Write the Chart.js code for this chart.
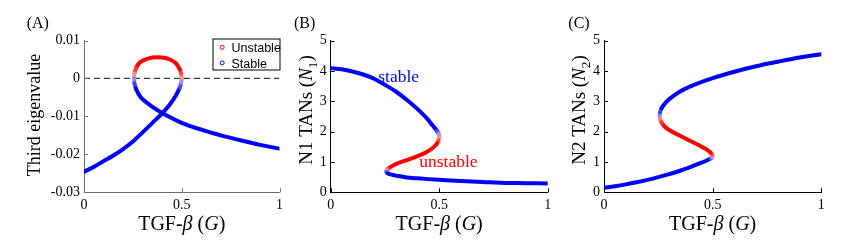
<!DOCTYPE html>
<html>
<head>
<meta charset="utf-8">
<script src="https://cdn.jsdelivr.net/npm/chart.js@4.4.1/dist/chart.umd.min.js"></script>
<style>
  html, body { margin: 0; padding: 0; background: #fff; }
  #wrap { position: relative; width: 863px; height: 242px; overflow: hidden; }
  .panel { position: absolute; top: 0; height: 242px; }
</style>
</head>
<body>
<div id="wrap">
  <div class="panel" style="left:0;width:290px"><canvas id="chartA"></canvas></div>
  <div class="panel" style="left:290px;width:270px"><canvas id="chartB"></canvas></div>
  <div class="panel" style="left:560px;width:303px"><canvas id="chartC"></canvas></div>
</div>
<script>
// Branch 1: G goes 0 -> 0.5 (high N1 / low N2, stable)
const g1   = [0, 0.05, 0.1, 0.15, 0.2, 0.25, 0.3, 0.35, 0.4, 0.44, 0.47, 0.49, 0.497, 0.5];
const eig1 = [-0.0246, -0.0233, -0.0218, -0.0203, -0.0186, -0.0166, -0.0142, -0.0117, -0.0092, -0.0068, -0.0045, -0.0024, -0.0011, 0];
const n1b1 = [4.09, 4.05, 3.98, 3.88, 3.74, 3.54, 3.32, 3.05, 2.74, 2.46, 2.2, 2.02, 1.93, 1.82];
const n2b1 = [0.15, 0.2, 0.26, 0.33, 0.41, 0.5, 0.6, 0.71, 0.84, 0.95, 1.04, 1.11, 1.15, 1.19];

// Branch 2: G goes 0.5 -> 0.256 (unstable middle branch)
const g2   = [0.5, 0.497, 0.49, 0.47, 0.44, 0.4, 0.35, 0.3, 0.28, 0.265, 0.258, 0.256];
const eig2 = [0, 0.0012, 0.0024, 0.004, 0.005, 0.0055, 0.0055, 0.0047, 0.0039, 0.0026, 0.0013, 0];
const n1b2 = [1.82, 1.71, 1.61, 1.46, 1.32, 1.19, 1.06, 0.93, 0.85, 0.78, 0.73, 0.69];
const n2b2 = [1.19, 1.25, 1.31, 1.42, 1.54, 1.68, 1.86, 2.05, 2.16, 2.3, 2.42, 2.53];

// Branch 3: G goes 0.256 -> 1 (low N1 / high N2, stable)
const g3   = [0.256, 0.258, 0.265, 0.28, 0.3, 0.35, 0.4, 0.5, 0.6, 0.7, 0.8, 0.9, 1];
const eig3 = [0, -0.0012, -0.0026, -0.0042, -0.0055, -0.0075, -0.0091, -0.0117, -0.0135, -0.015, -0.0163, -0.0175, -0.0185];
const n1b3 = [0.69, 0.65, 0.62, 0.58, 0.55, 0.49, 0.46, 0.41, 0.37, 0.34, 0.31, 0.3, 0.29];
const n2b3 = [2.53, 2.63, 2.77, 2.92, 3.07, 3.32, 3.5, 3.76, 3.97, 4.15, 4.3, 4.44, 4.55];

const xTicks = [0, 0.5, 1];
const yTicksA = [-0.03, -0.02, -0.01, 0, 0.01];
const yTicksN = [0, 1, 2, 3, 4, 5];

const SERIF = "'Liberation Serif', 'Times New Roman', serif";
const SANS = "'Liberation Sans', Arial, sans-serif";

// whole bifurcation curve, one point per parameter step
const gAll = [...g1, ...g2.slice(1), ...g3.slice(1)];
const eigAll = [...eig1, ...eig2.slice(1), ...eig3.slice(1)];
const n1All = [...n1b1, ...n1b2.slice(1), ...n1b3.slice(1)];
const n2All = [...n2b1, ...n2b2.slice(1), ...n2b3.slice(1)];

function stabilityColor(e) {
    const base = e > 0 ? [255, 0, 0] : [0, 0, 255];
    const t = Math.min(1, Math.abs(e) / 0.003);
    const k = 0.3 + 0.7 * t;
    const c = base.map(v => Math.round(255 + (v - 255) * k));
    return 'rgb(' + c.join(',') + ')';
}

function curveDataset(values) {
    return {
        data: gAll.map((g, i) => ({ x: g, y: values[i] })),
        showLine: true,
        borderColor: '#0000ff',
        borderWidth: 4,
        borderCapStyle: 'round',
        borderJoinStyle: 'round',
        pointRadius: 0,
        tension: 0.35,
        order: 0,
        segment: {
            borderColor: ctx => stabilityColor((eigAll[ctx.p0DataIndex] + eigAll[ctx.p1DataIndex]) / 2)
        }
    };
}

const fmt = v => String(Math.round(v * 1000) / 1000);

// tick marks pointing into the plot, like the original figure
const inwardTicks = {
    id: 'inwardTicks',
    afterDraw(chart, args, opts) {
        const { ctx, chartArea: a, scales: { x, y } } = chart;
        ctx.save();
        ctx.strokeStyle = opts.color;
        ctx.lineWidth = 1;
        ctx.beginPath();
        x.ticks.forEach(t => {
            const px = Math.round(x.getPixelForValue(t.value)) + 0.5;
            ctx.moveTo(px, a.bottom);
            ctx.lineTo(px, a.bottom - 4);
        });
        y.ticks.forEach(t => {
            const py = Math.round(y.getPixelForValue(t.value)) + 0.5;
            ctx.moveTo(a.left, py);
            ctx.lineTo(a.left + 4, py);
        });
        ctx.stroke();
        ctx.restore();
    }
};

function runFont(r, size) {
    const s = r.sub ? size * 0.7 : size;
    return (r.it ? 'italic ' : '') + s + 'px ' + SERIF;
}

function runsWidth(ctx, runs, size) {
    let w = 0;
    runs.forEach(r => { ctx.font = runFont(r, size); w += ctx.measureText(r.t).width; });
    return w;
}

function drawRuns(ctx, runs, size, x0) {
    let x = x0;
    runs.forEach(r => {
        ctx.font = runFont(r, size);
        ctx.fillText(r.t, x, r.sub ? size * 0.28 : 0);
        x += ctx.measureText(r.t).width;
    });
}

const panelText = {
    id: 'panelText',
    afterDraw(chart, args, o) {
        const { ctx, chartArea: a } = chart;
        ctx.save();
        ctx.fillStyle = '#000';
        ctx.textBaseline = 'alphabetic';
        ctx.textAlign = 'left';

        // panel letter
        ctx.font = '16px ' + SERIF;
        ctx.fillText(o.label, a.left + o.labelDx, 28);

        // y title, rotated
        ctx.save();
        ctx.translate(a.left + o.yDx, o.yCenter);
        ctx.rotate(-Math.PI / 2);
        const yw = runsWidth(ctx, o.yRuns, o.ySize);
        drawRuns(ctx, o.yRuns, o.ySize, -yw / 2);
        ctx.restore();

        // x title
        ctx.save();
        ctx.translate((a.left + a.right) / 2, 230);
        const xw = runsWidth(ctx, o.xRuns, 20);
        drawRuns(ctx, o.xRuns, 20, -xw / 2);
        ctx.restore();

        // in-plot notes placed at data coordinates
        (o.notes || []).forEach(n => {
            ctx.font = '17.5px ' + SERIF;
            ctx.fillStyle = n.color;
            ctx.fillText(n.text, chart.scales.x.getPixelForValue(n.x), chart.scales.y.getPixelForValue(n.y));
        });

        // legend box
        if (o.legend) {
            const w = 67, h = 31, lx = a.right - w + 0.5, ly = a.top - 2 + 0.5;
            ctx.fillStyle = '#fff';
            ctx.fillRect(lx, ly, w, h);
            ctx.strokeStyle = '#000';
            ctx.lineWidth = 1;
            ctx.strokeRect(lx, ly, w, h);
            o.legend.forEach((item, i) => {
                const cy = ly + 8.3 + i * 15.6;
                ctx.beginPath();
                ctx.arc(lx + 9.2, cy, 2, 0, Math.PI * 2);
                ctx.strokeStyle = item.color;
                ctx.lineWidth = 1;
                ctx.stroke();
                ctx.fillStyle = '#000';
                ctx.font = '12.5px ' + SANS;
                ctx.fillText(item.text, lx + 18.5, cy + 4.8);
            });
        }
        ctx.restore();
    }
};

function makePanel(id, cfg) {
    const noGrid = { display: false, drawTicks: false, tickLength: 0 };
    return new Chart(document.getElementById(id), {
        type: 'scatter',
        data: { datasets: cfg.datasets },
        options: {
            responsive: true,
            maintainAspectRatio: false,
            animation: false,
            layout: { padding: { top: 40.5, right: cfg.padRight, left: 0, bottom: 0 } },
            scales: {
                x: {
                    type: 'linear', min: 0, max: 1,
                    afterBuildTicks: s => { s.ticks = xTicks.map(v => ({ value: v })); },
                    afterFit: s => { s.height = 49.7; },
                    grid: noGrid,
                    border: { display: true, color: cfg.axisColor, width: 1 },
                    ticks: { font: { family: SERIF, size: 14 }, color: '#000', padding: 5, maxRotation: 0, autoSkip: false, callback: fmt }
                },
                y: {
                    type: 'linear', min: cfg.yTicks[0], max: cfg.yTicks[cfg.yTicks.length - 1],
                    afterBuildTicks: s => { s.ticks = cfg.yTicks.map(v => ({ value: v })); },
                    afterFit: s => { s.width = cfg.axisLeft; },
                    grid: noGrid,
                    border: { display: true, color: cfg.axisColor, width: 1 },
                    ticks: { font: { family: SERIF, size: 14 }, color: '#000', padding: 4, autoSkip: false, callback: fmt }
                }
            },
            plugins: {
                legend: { display: false },
                tooltip: { enabled: false },
                inwardTicks: { color: cfg.axisColor },
                panelText: cfg.text
            }
        },
        plugins: [inwardTicks, panelText]
    });
}

const xTitle = [{ t: 'TGF-' }, { t: '\u03b2', it: true }, { t: ' (' }, { t: 'G', it: true }, { t: ')' }];

makePanel('chartA', {
    axisLeft: 84, padRight: 10.5, axisColor: '#6e6e6e', yTicks: yTicksA,
    datasets: [
        curveDataset(eigAll),
        {
            data: [{ x: 0, y: 0 }, { x: 1, y: 0 }],
            showLine: true, borderColor: '#3c3c3c', borderWidth: 1.3, borderDash: [6, 4],
            pointRadius: 0, order: 1
        }
    ],
    text: {
        label: '(A)', labelDx: -57.3,
        yRuns: [{ t: 'Third eigenvalue' }], ySize: 18, yDx: -44.5, yCenter: 115,
        xRuns: xTitle,
        legend: [{ text: 'Unstable', color: '#ff0000' }, { text: 'Stable', color: '#0000ff' }]
    }
});

makePanel('chartB', {
    axisLeft: 40.7, padRight: 12.3, axisColor: '#000', yTicks: yTicksN,
    datasets: [curveDataset(n1All)],
    text: {
        label: '(B)', labelDx: -36.7,
        yRuns: [{ t: 'N1 TANs (' }, { t: 'N', it: true }, { t: '1', sub: true }, { t: ')' }], ySize: 19, yDx: -19, yCenter: 110,
        xRuns: xTitle,
        notes: [
            { text: 'stable', color: '#0000ff', x: 0.219, y: 3.62 },
            { text: 'unstable', color: '#ff0000', x: 0.408, y: 0.845 }
        ]
    }
});

makePanel('chartC', {
    axisLeft: 44, padRight: 41.7, axisColor: '#000', yTicks: yTicksN,
    datasets: [curveDataset(n2All)],
    text: {
        label: '(C)', labelDx: -35.7,
        yRuns: [{ t: 'N2 TANs (' }, { t: 'N', it: true }, { t: '2', sub: true }, { t: ')' }], ySize: 19, yDx: -19, yCenter: 110,
        xRuns: xTitle
    }
});
</script>
</body>
</html>
